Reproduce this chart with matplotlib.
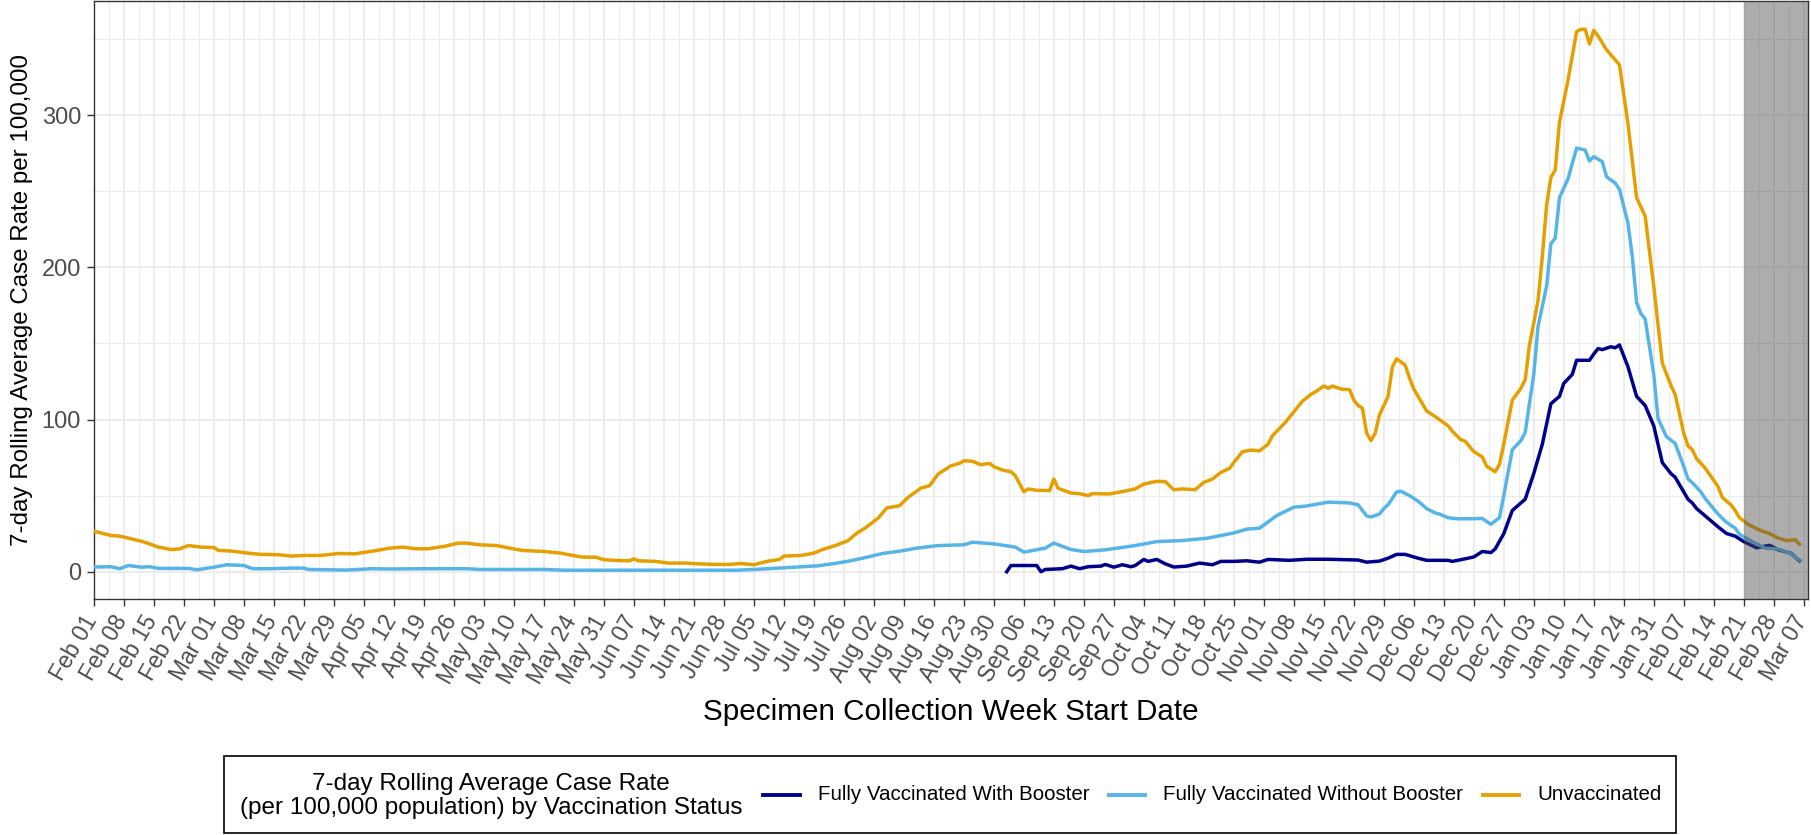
import numpy as np
import pandas as pd
import matplotlib
matplotlib.use("Agg")
import matplotlib.pyplot as plt
import matplotlib.dates as mdates
import matplotlib.transforms as mtransforms
from matplotlib.lines import Line2D
from matplotlib.patches import Rectangle

plt.rcParams["font.family"] = ["Liberation Sans", "DejaVu Sans"]

# ---------------- data (days since start_date, rate per 100,000) ----------------
start_date = "2021-02-01"

unvax_days = [0, 4, 6, 11, 13, 15, 18, 20, 22, 25, 28, 29, 32, 36, 39, 43, 46, 49, 53, 57,
              61, 66, 69, 72, 75, 78, 82, 85, 87, 90, 94, 97, 100, 105, 109, 111, 114, 117, 119, 122,
              125, 126, 127, 131, 134, 138, 141, 145, 148, 151, 154, 157, 160, 161, 165, 168, 170, 173, 176, 178,
              180, 183, 185, 188, 190, 193, 195, 197, 200, 202, 203, 205, 207, 209, 210, 212, 214, 215, 217, 218,
              220, 223, 224, 225, 228, 230, 232, 233, 237, 241, 243, 245, 248, 250, 252, 254, 257, 259, 261, 263,
              265, 266, 268, 270, 272, 274, 275, 278, 280, 282, 284, 285, 287, 288, 289, 291, 293, 294, 295, 296,
              297, 298, 299, 300, 302, 303, 304, 306, 307, 308, 310, 311, 313, 316, 317, 319, 320, 322, 324, 325,
              327, 328, 329, 331, 333, 334, 335, 337, 338, 339, 340, 341, 342, 344, 346, 347, 348, 349, 350, 351,
              353, 355, 356, 358, 360, 362, 364, 366, 368, 369, 371, 372, 373, 374, 376, 379, 380, 382, 383, 384,
              386, 389, 391, 393, 395, 397, 398]
unvax_rate = [26.6, 23.8, 23.4, 20.1, 18.3, 16.2, 14.6, 15.0, 17.2, 16.2, 15.9, 14.0, 13.6, 12.2, 11.4, 11.2, 10.3, 10.7, 10.7, 12.0,
              11.8, 14.0, 15.5, 16.2, 15.1, 15.1, 16.8, 18.8, 18.8, 17.7, 17.2, 15.5, 14.0, 13.3, 12.2, 11.1, 9.6, 9.6, 7.9, 7.4,
              7.2, 8.5, 7.2, 6.8, 5.7, 5.7, 5.2, 4.8, 4.8, 5.4, 4.6, 6.8, 8.1, 10.3, 10.7, 12.2, 14.6, 17.2, 20.5, 25.3,
              28.8, 35.2, 41.9, 43.4, 48.9, 55.0, 56.5, 64.2, 69.6, 71.2, 72.9, 72.6, 70.3, 71.2, 69.0, 66.8, 65.7, 63.1, 52.6, 54.4,
              53.5, 53.3, 60.9, 54.8, 51.7, 51.3, 50.0, 51.3, 51.1, 53.2, 54.4, 57.6, 59.4, 59.2, 53.9, 54.4, 53.9, 58.7, 60.9, 65.3,
              67.9, 71.8, 78.8, 79.9, 79.4, 83.8, 89.3, 98.0, 105.0, 112.0, 116.5, 118.1, 122.0, 120.5, 122.0, 120.0, 119.6, 112.8, 109.2, 107.5,
              91.0, 86.2, 91.0, 103.1, 115.2, 134.5, 139.9, 135.7, 127.3, 120.0, 110.4, 105.6, 101.9, 95.9, 92.3, 86.7, 85.7, 79.0, 75.4, 69.3,
              65.7, 70.5, 83.8, 112.8, 120.5, 126.1, 149.0, 178.0, 207.0, 240.8, 259.0, 263.8, 295.2, 323.0, 354.8, 356.3, 356.3, 346.6, 355.6, 352.0,
              342.8, 336.2, 333.0, 294.0, 245.7, 233.6, 187.7, 137.0, 122.5, 116.4, 91.0, 82.6, 80.2, 74.2, 68.1, 56.0, 48.8, 44.0, 40.3, 35.5,
              31.2, 27.0, 25.1, 22.2, 20.5, 21.0, 18.1]

nobooster_days = [0, 4, 6, 8, 11, 13, 15, 20, 22, 24, 28, 31, 35, 37, 41, 46, 49, 50, 59, 65,
                  69, 77, 87, 90, 97, 105, 110, 135, 150, 154, 161, 169, 173, 176, 180, 184, 188, 192, 197, 203,
                  205, 210, 215, 217, 222, 224, 228, 231, 236, 243, 248, 254, 260, 266, 269, 272, 276, 280, 283, 288,
                  293, 295, 297, 298, 300, 301, 302, 304, 305, 307, 309, 311, 313, 314, 316, 318, 321, 324, 325, 326,
                  328, 329, 331, 333, 334, 336, 337, 339, 340, 341, 342, 344, 346, 348, 349, 350, 352, 353, 355, 356,
                  358, 359, 360, 361, 362, 364, 365, 367, 369, 371, 372, 373, 375, 376, 379, 381, 383, 384, 387, 390,
                  393, 396, 398]
nobooster_rate = [3.1, 3.3, 2.0, 4.1, 3.0, 3.3, 2.2, 2.2, 2.2, 1.3, 3.0, 4.6, 4.1, 2.0, 2.0, 2.4, 2.4, 1.5, 1.1, 2.0,
                  1.8, 2.0, 2.0, 1.5, 1.5, 1.5, 1.0, 1.0, 1.0, 1.5, 2.6, 3.9, 5.5, 6.9, 9.3, 12.0, 13.5, 15.5, 17.2, 17.7,
                  19.4, 18.3, 16.2, 12.9, 15.5, 18.8, 14.6, 13.3, 14.4, 17.2, 19.8, 20.5, 22.1, 25.5, 28.0, 28.6, 36.9, 42.4, 43.2, 45.7,
                  45.2, 44.0, 36.7, 36.0, 37.9, 41.5, 44.0, 52.4, 52.9, 50.0, 46.4, 41.5, 38.6, 37.9, 35.5, 34.8, 34.8, 35.0, 33.0, 31.2,
                  35.5, 50.0, 80.2, 86.2, 91.5, 129.7, 161.1, 187.7, 215.5, 219.0, 245.7, 258.2, 278.3, 277.0, 269.8, 272.7, 269.3, 259.4, 255.3, 251.2,
                  228.7, 207.0, 176.8, 169.6, 166.0, 129.7, 100.7, 88.6, 84.3, 69.3, 60.9, 58.5, 52.4, 48.1, 37.9, 32.4, 28.7, 24.6, 19.8, 15.5,
                  15.0, 11.8, 7.7]

booster_days = [213, 214, 220, 221, 222, 226, 228, 230, 232, 235, 236, 238, 240, 242, 243, 245, 246, 248, 250, 252,
                255, 258, 261, 263, 266, 269, 272, 274, 279, 283, 288, 295, 297, 300, 302, 304, 306, 309, 311, 316,
                317, 320, 322, 324, 326, 327, 329, 331, 333, 334, 336, 338, 340, 342, 343, 345, 346, 349, 350, 351,
                352, 354, 355, 356, 358, 360, 362, 364, 366, 368, 369, 372, 373, 374, 376, 379, 381, 383, 385, 388,
                391, 393, 396, 398]
booster_rate = [0.0, 4.1, 4.1, 0.0, 1.5, 2.0, 3.7, 2.0, 3.3, 3.7, 4.8, 3.0, 4.6, 3.3, 4.1, 8.1, 6.8, 8.1, 5.2, 3.1,
                3.7, 5.7, 4.6, 6.8, 6.8, 7.2, 6.3, 8.1, 7.5, 8.2, 8.2, 7.7, 6.3, 7.0, 8.9, 11.4, 11.4, 8.9, 7.5, 7.5,
                6.8, 8.5, 9.7, 13.3, 12.6, 15.0, 25.0, 40.3, 45.2, 47.6, 64.5, 83.8, 110.4, 115.2, 123.7, 129.7, 138.9, 138.9, 143.0, 146.6,
                145.9, 147.8, 147.1, 149.0, 134.5, 115.2, 109.2, 95.9, 71.7, 64.5, 62.1, 47.6, 45.2, 41.5, 36.7, 29.5, 25.1, 23.4, 19.8, 15.7,
                17.4, 14.5, 12.1, 7.2]

series_names = ["Fully Vaccinated With Booster", "Fully Vaccinated Without Booster", "Unvaccinated"]
series_colors = ["#00008B", "#56B4E9", "#E69F00"]
legend_title = "7-day Rolling Average Case Rate\n(per 100,000 population) by Vaccination Status"
x_title = "Specimen Collection Week Start Date"
y_title = "7-day Rolling Average Case Rate per 100,000"
tick_first, tick_last = "2021-02-01", "2022-03-07"
x_right = "2022-03-08"
shade_start = "2022-02-21"
y_major = [0, 100, 200, 300]
y_minor = [50, 150, 250, 350]

# ---------------- figure ----------------
W, H = 1811, 835
fig = plt.figure(figsize=(W / 100, H / 100), dpi=100)


def fx(px):
    return px / W


def fy(py):
    return 1 - py / H


ax = fig.add_axes([fx(94), fy(599), fx(1808) - fx(94), fy(1) - fy(599)])

t0 = pd.Timestamp(start_date)


def to_dates(days):
    return t0 + pd.to_timedelta(np.asarray(days), unit="D")


series = [(booster_days, booster_rate), (nobooster_days, nobooster_rate), (unvax_days, unvax_rate)]
for (d, v), name, col in zip(series, series_names, series_colors):
    ax.plot(to_dates(d), v, color=col, lw=2.5, solid_joinstyle="round", zorder=3, label=name)

x0 = mdates.date2num(pd.Timestamp(start_date))
x1 = mdates.date2num(pd.Timestamp(x_right))
ax.axvspan(mdates.date2num(pd.Timestamp(shade_start)), x1, color="#4D4D4D", alpha=0.46, lw=0, zorder=5)

major = mdates.date2num(pd.date_range(tick_first, tick_last, freq="7D"))
ax.set_xticks(major)
ax.set_xticks(major[:-1] + 3.5, minor=True)
ax.xaxis.set_major_formatter(mdates.DateFormatter("%b %d"))
ax.set_xlim(x0, x1)
ax.set_ylim(-17.9, 374.9)
ax.set_yticks(y_major)
ax.set_yticks(y_minor, minor=True)

ax.grid(which="major", color="#EBEBEB", lw=1.3, zorder=0)
ax.grid(which="minor", color="#EBEBEB", lw=0.75, zorder=0)
ax.set_axisbelow(True)
for s in ax.spines.values():
    s.set_color("#333333")
    s.set_linewidth(1.0)

ax.tick_params(which="major", length=4.8, width=1.0, color="#333333", labelcolor="#4D4D4D", labelsize=16.5)
ax.tick_params(which="minor", length=0)
ax.tick_params(axis="y", pad=4.5, labelsize=17)
ax.tick_params(axis="x", pad=4)
shift = mtransforms.ScaledTranslation(-0.12, 0, fig.dpi_scale_trans)
for lab in ax.get_xticklabels():
    lab.set_rotation(60)
    lab.set_ha("right")
    lab.set_va("top")
    lab.set_rotation_mode("anchor")
    lab.set_transform(lab.get_transform() + shift)

fig.text(fx(951), fy(712), x_title, ha="center", va="center", size=21.3, color="black")
fig.text(fx(22), fy(300), y_title, ha="center", va="center", rotation=90, size=17.4, color="black")

# ---------------- legend ----------------
fig.add_artist(Rectangle((fx(224), fy(833)), fx(1676) - fx(224), fy(756) - fy(833),
                         transform=fig.transFigure, fill=False, edgecolor="black", lw=1.2))
fig.text(fx(491), fy(796), legend_title, ha="center", va="center", size=17.5,
         linespacing=1.1, multialignment="center", color="black")
handle_x = [(763, 800), (1109, 1145), (1483, 1519)]
text_x = [818, 1163, 1537]
for (a, b), tx, name, col in zip(handle_x, text_x, series_names, series_colors):
    fig.add_artist(Line2D([fx(a), fx(b)], [fy(795), fy(795)], transform=fig.transFigure,
                          color=col, lw=2.8))
    fig.text(fx(tx), fy(795), name, ha="left", va="center", size=14.8, color="black")

fig.savefig("out.png", dpi=100)
